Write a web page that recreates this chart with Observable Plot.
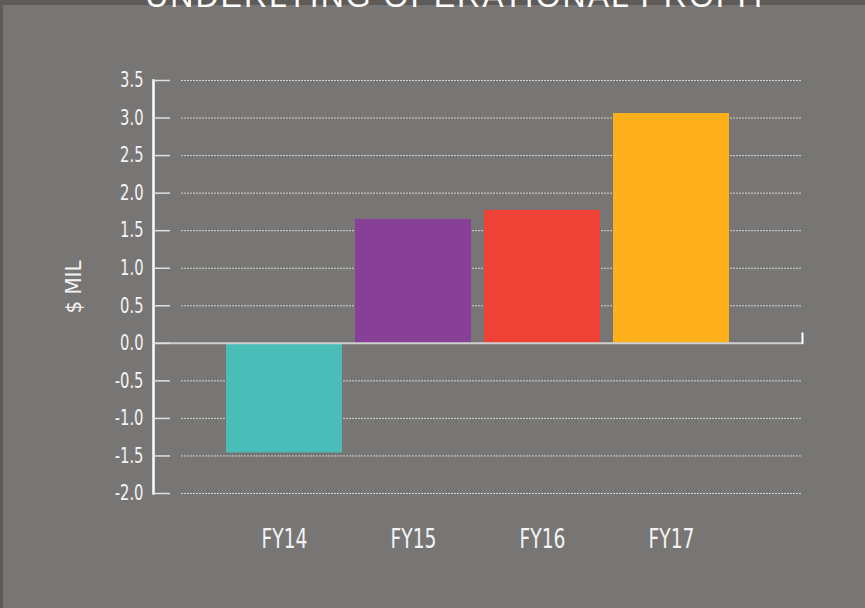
<!DOCTYPE html>
<html><head><meta charset="utf-8">
<script src="https://cdn.jsdelivr.net/npm/d3@7"></script>
<script src="https://cdn.jsdelivr.net/npm/@observablehq/plot@0.6"></script>
<style>
html,body{margin:0;padding:0;background:#5d5a58;width:865px;height:608px;overflow:hidden;}
#panel{position:absolute;left:3px;top:5px;width:862px;height:603px;background:#787674;}
#title{position:absolute;left:25px;top:-20px;width:865px;text-align:center;font-family:"Liberation Sans",sans-serif;font-size:32px;letter-spacing:2px;color:#fff;line-height:1;white-space:nowrap;z-index:2;}
#chart{position:absolute;left:0;top:0;}
</style></head><body>
<div id="panel"></div>
<div id="chart"></div>
<div id="title"></div>
<script>
const title = "UNDERLYING OPERATIONAL PROFIT";
const categories = ["FY14", "FY15", "FY16", "FY17"];
const values = [-1.46, 1.65, 1.77, 3.06];
const colors = ["#4bbdb9", "#883f98", "#ef4136", "#fdb019"];
const yTicks = [-2, -1.5, -1, -0.5, 0, 0.5, 1, 1.5, 2, 2.5, 3, 3.5];
const yLabel = "$ MIL";

document.getElementById("title").textContent = title;
const data = categories.map((c, i) => ({category: c, value: values[i], color: colors[i]}));

const chart = Plot.plot({
  width: 865, height: 608,
  marginLeft: 153, marginRight: 63, marginTop: 80, marginBottom: 115,
  style: {background: "transparent", fontFamily: "'DejaVu Sans Condensed', 'DejaVu Sans', sans-serif", color: "white", overflow: "visible"},
  x: {domain: categories, range: [218.5, 737.3], paddingInner: 0.1, paddingOuter: 0.05, axis: null},
  y: {domain: [-2, 3.5], axis: null},
  color: {type: "identity"},
  marks: [
    Plot.ruleY(yTicks.filter(d => d !== 0), {insetLeft: 28, stroke: "#d4d4d4", strokeDasharray: "2,1", strokeWidth: 1}),
    Plot.barY(data, {x: "category", y: "value", fill: d => d.color}),
    Plot.ruleY([0], {stroke: "#cfcfcf", strokeWidth: 2}),
    Plot.frame({anchor: "left", stroke: "white", strokeWidth: 2.5}),
    Plot.axisY({ticks: yTicks, tickSize: -17, tickPadding: 27, stroke: "#e0e0e0", strokeWidth: 1.5, fill: "#f4f4f4", fontSize: 21, tickFormat: d => d.toFixed(1), label: null}),
    Plot.axisX({tickSize: 0, tickPadding: 36, fontSize: 26, fill: "#f4f4f4", label: null}),
    Plot.vector([0], {y: d => d, frameAnchor: "right", length: 10, rotate: 0, anchor: "start",
      shape: {draw(ctx, l) { ctx.moveTo(0, 0); ctx.lineTo(0, -l); }}, stroke: "white", strokeWidth: 2}),
    Plot.text([yLabel], {text: d => d, frameAnchor: "left", textAnchor: "middle", dx: -80, rotate: -90, fontSize: 22, fill: "#f4f4f4"})
  ]
});
document.getElementById("chart").appendChild(chart);

// condense tick labels to mimic the narrow typeface of the original
function condense(selector, factor) {
  chart.querySelectorAll(selector).forEach(t => {
    const w = t.getComputedTextLength();
    t.setAttribute("textLength", (w * factor).toFixed(1));
    t.setAttribute("lengthAdjust", "spacingAndGlyphs");
  });
}
condense('g[aria-label="y-axis tick label"] text', 0.78);
condense('g[aria-label="x-axis tick label"] text', 0.8);
</script>
</body></html>
